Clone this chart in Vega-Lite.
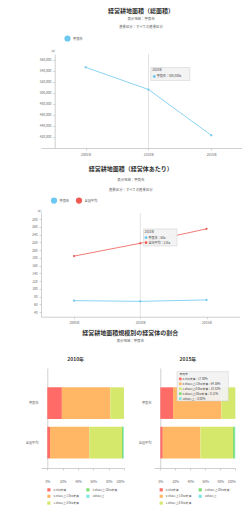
{
  "$schema": "https://vega.github.io/schema/vega-lite/v6.json",
  "padding": {"left": 25, "top": 8, "right": 2, "bottom": 2},
  "background": "white",
  "config": {
    "font": "Noto Sans CJK JP",
    "view": {"stroke": null},
    "title": {"fontSize": 6, "fontWeight": "bold", "color": "#333333", "subtitleFontSize": 3.4, "subtitleColor": "#555555", "subtitleLineHeight": 8, "subtitlePadding": 3, "anchor": "middle"},
    "axis": {"labelFontSize": 3.2, "labelColor": "#666666", "domainColor": "#bbbbbb", "tickColor": "#bbbbbb", "grid": false, "tickSize": 2, "domainWidth": 0.7, "tickWidth": 0.6, "titleFontSize": 3.2, "titleFontWeight": "normal", "titleColor": "#666666", "labelPadding": 2},
    "legend": {"labelFontSize": 3.2, "labelColor": "#555555"}
  },
  "datasets": {
    "area": [
      {"year": "2005年", "region": "奈良市", "value": 545900},
      {"year": "2010年", "region": "奈良市", "value": 505800},
      {"year": "2015年", "region": "奈良市", "value": 422900}
    ],
    "tip1": [
      {"year": "2010年", "value": 505800, "head": "2010年", "line": "奈良市：505,800a"}
    ],
    "perFarm": [
      {"year": "2005年", "region": "奈良市", "value": 69.5},
      {"year": "2010年", "region": "奈良市", "value": 67.7},
      {"year": "2015年", "region": "奈良市", "value": 71.4},
      {"year": "2005年", "region": "全国平均", "value": 184.6},
      {"year": "2010年", "region": "全国平均", "value": 217.8},
      {"year": "2015年", "region": "全国平均", "value": 255.0}
    ],
    "tip2": [
      {"year": "2010年", "value": 217.8, "head": "2010年", "line1": "奈良市：68a", "line2": "全国平均：218a"}
    ],
    "tip3": [
      {"ord": 0, "label": "奈良市"},
      {"ord": 1, "cls": "0.3ha未満", "label": "0.3ha未満：17.00%"},
      {"ord": 2, "cls": "0.3ha以上1.0ha未満", "label": "0.3ha以上1.0ha未満：64.36%"},
      {"ord": 3, "cls": "1.0ha以上3.0ha未満", "label": "1.0ha以上3.0ha未満：18.52%"},
      {"ord": 4, "cls": "3.0ha以上10ha未満", "label": "3.0ha以上10ha未満：0.12%"},
      {"ord": 5, "cls": "10ha以上", "label": "10ha以上：0.00%"}
    ],
    "share": [
      {"year": "2010年", "region": "奈良市", "cls": "0.3ha未満", "ord": 1, "pct": 19.0},
      {"year": "2010年", "region": "奈良市", "cls": "0.3ha以上1.0ha未満", "ord": 2, "pct": 63.2},
      {"year": "2010年", "region": "奈良市", "cls": "1.0ha以上3.0ha未満", "ord": 3, "pct": 17.7},
      {"year": "2010年", "region": "奈良市", "cls": "3.0ha以上10ha未満", "ord": 4, "pct": 0.1},
      {"year": "2010年", "region": "奈良市", "cls": "10ha以上", "ord": 5, "pct": 0.0},
      {"year": "2010年", "region": "全国平均", "cls": "0.3ha未満", "ord": 1, "pct": 3.5},
      {"year": "2010年", "region": "全国平均", "cls": "0.3ha以上1.0ha未満", "ord": 2, "pct": 51.3},
      {"year": "2010年", "region": "全国平均", "cls": "1.0ha以上3.0ha未満", "ord": 3, "pct": 42.6},
      {"year": "2010年", "region": "全国平均", "cls": "3.0ha以上10ha未満", "ord": 4, "pct": 2.0},
      {"year": "2010年", "region": "全国平均", "cls": "10ha以上", "ord": 5, "pct": 0.6},
      {"year": "2015年", "region": "奈良市", "cls": "0.3ha未満", "ord": 1, "pct": 17.0},
      {"year": "2015年", "region": "奈良市", "cls": "0.3ha以上1.0ha未満", "ord": 2, "pct": 64.36},
      {"year": "2015年", "region": "奈良市", "cls": "1.0ha以上3.0ha未満", "ord": 3, "pct": 18.52},
      {"year": "2015年", "region": "奈良市", "cls": "3.0ha以上10ha未満", "ord": 4, "pct": 0.12},
      {"year": "2015年", "region": "奈良市", "cls": "10ha以上", "ord": 5, "pct": 0.0},
      {"year": "2015年", "region": "全国平均", "cls": "0.3ha未満", "ord": 1, "pct": 3.3},
      {"year": "2015年", "region": "全国平均", "cls": "0.3ha以上1.0ha未満", "ord": 2, "pct": 50.2},
      {"year": "2015年", "region": "全国平均", "cls": "1.0ha以上3.0ha未満", "ord": 3, "pct": 43.4},
      {"year": "2015年", "region": "全国平均", "cls": "3.0ha以上10ha未満", "ord": 4, "pct": 2.5},
      {"year": "2015年", "region": "全国平均", "cls": "10ha以上", "ord": 5, "pct": 0.6}
    ]
  },
  "columns": 1,
  "align": "none",
  "spacing": 6,
  "resolve": {"scale": {"color": "independent"}, "legend": {"color": "independent"}},
  "concat": [
    {
      "columns": 1,
      "align": "none",
      "spacing": 10,
      "resolve": {"scale": {"color": "independent"}, "legend": {"color": "independent"}},
      "concat": [
        {
          "title": {"text": "経営耕地面積（総面積）", "subtitle": ["表示地域：奈良市", "農業区分：すべての農業区分"], "offset": 6.5, "dx": -1},
          "width": 202,
          "height": 94,
          "data": {"name": "area"},
          "layer": [
            {
              "data": {"values": [{"year": "2010年"}]},
              "mark": {"type": "rule", "color": "#e3e3e3", "strokeWidth": 1},
              "encoding": {"x": {"field": "year", "type": "ordinal", "scale": {"type": "point", "padding": 0.608, "align": 0.585, "domain": ["2005年", "2010年", "2015年"]}, "axis": {"title": null, "labelAngle": 0, "labelPadding": 2}}}
            },
            {
              "mark": {"type": "line", "strokeWidth": 0.8, "point": {"filled": true, "size": 5}},
              "encoding": {
                "x": {"field": "year", "type": "ordinal", "scale": {"type": "point", "padding": 0.608, "align": 0.585, "domain": ["2005年", "2010年", "2015年"]}, "axis": {"title": null, "labelAngle": 0, "labelPadding": 2}},
                "y": {"field": "value", "type": "quantitative", "scale": {"domain": [400000, 570000], "nice": false, "zero": false}, "axis": {"values": [420000, 440000, 460000, 480000, 500000, 520000, 540000, 560000], "format": ",d", "title": "[a]", "titleAngle": 0, "titleAnchor": "end", "titleAlign": "center", "titleBaseline": "bottom", "titleX": -2, "titleY": -2, "offset": -13.7}},
                "color": {"field": "region", "type": "nominal", "scale": {"domain": ["奈良市"], "range": ["#6cc8f0"]}, "legend": {"orient": "none", "legendX": 23, "legendY": -19, "direction": "horizontal", "title": null, "symbolType": "circle", "symbolSize": 22, "labelOffset": 2}}
              }
            },
            {
              "data": {"name": "tip1"},
              "encoding": {
                "x": {"field": "year", "type": "ordinal", "scale": {"type": "point", "padding": 0.608, "align": 0.585, "domain": ["2005年", "2010年", "2015年"]}, "axis": {"title": null, "labelAngle": 0, "labelPadding": 2}},
                "y": {"field": "value", "type": "quantitative", "scale": {"domain": [400000, 570000], "nice": false, "zero": false}, "axis": {"values": [420000, 440000, 460000, 480000, 500000, 520000, 540000, 560000], "format": ",d", "title": "[a]", "titleAngle": 0, "titleAnchor": "end", "titleAlign": "center", "titleBaseline": "bottom", "titleX": -2, "titleY": -2, "offset": -13.7}}
              },
              "layer": [
                {"mark": {"type": "point", "shape": "M-1,-0.333H1V0.333H-1Z", "size": 1521, "filled": true, "fill": "#f2f2f2", "fillOpacity": 0.95, "stroke": "#cccccc", "strokeWidth": 0.5, "xOffset": 21.8, "yOffset": -15.5}},
                {"mark": {"type": "text", "align": "left", "baseline": "middle", "fontSize": 3, "color": "#444444", "dx": 3.8, "dy": -19}, "encoding": {"text": {"field": "head"}}},
                {"mark": {"type": "point", "shape": "circle", "size": 8, "filled": true, "color": "#6cc8f0", "opacity": 1, "xOffset": 5.8, "yOffset": -13}},
                {"mark": {"type": "text", "align": "left", "baseline": "middle", "fontSize": 3, "color": "#444444", "dx": 8.3, "dy": -13}, "encoding": {"text": {"field": "line"}}}
              ]
            }
          ]
        },
        {
          "title": {"text": "経営耕地面積（経営体あたり）", "subtitle": ["表示地域：奈良市", "農業区分：すべての農業区分"], "offset": 6, "subtitlePadding": 6, "subtitleLineHeight": 9.3, "dx": -9.5},
          "width": 198.6,
          "height": 103.7,
          "data": {"name": "perFarm"},
          "layer": [
            {
              "data": {"values": [{"year": "2010年"}]},
              "mark": {"type": "rule", "color": "#e3e3e3", "strokeWidth": 1},
              "encoding": {"x": {"field": "year", "type": "ordinal", "scale": {"type": "point", "padding": 0.5, "domain": ["2005年", "2010年", "2015年"]}, "axis": {"title": null, "labelAngle": 0, "labelPadding": 2}}}
            },
            {
              "mark": {"type": "line", "strokeWidth": 0.8, "point": {"filled": true, "size": 5}},
              "encoding": {
                "x": {"field": "year", "type": "ordinal", "scale": {"type": "point", "padding": 0.5, "domain": ["2005年", "2010年", "2015年"]}, "axis": {"title": null, "labelAngle": 0, "labelPadding": 2}},
                "y": {"field": "value", "type": "quantitative", "scale": {"domain": [28, 296], "nice": false, "zero": false}, "axis": {"values": [40, 60, 80, 100, 120, 140, 160, 180, 200, 220, 240, 260, 280], "title": "[a]", "titleAngle": 0, "titleAnchor": "end", "titleAlign": "center", "titleBaseline": "bottom", "titleX": -2, "titleY": -1, "minExtent": 13}},
                "color": {"field": "region", "type": "nominal", "scale": {"domain": ["奈良市", "全国平均"], "range": ["#6cc8f0", "#ee5a52"]}, "legend": {"orient": "none", "legendX": 9.5, "legendY": -16, "direction": "horizontal", "title": null, "symbolType": "circle", "symbolSize": 22, "labelOffset": 2, "columnPadding": 4}}
              }
            },
            {
              "data": {"name": "tip2"},
              "encoding": {
                "x": {"field": "year", "type": "ordinal", "scale": {"type": "point", "padding": 0.5, "domain": ["2005年", "2010年", "2015年"]}, "axis": {"title": null, "labelAngle": 0, "labelPadding": 2}},
                "y": {"field": "value", "type": "quantitative", "scale": {"domain": [28, 296], "nice": false, "zero": false}, "axis": {"values": [40, 60, 80, 100, 120, 140, 160, 180, 200, 220, 240, 260, 280], "title": "[a]", "titleAngle": 0, "titleAnchor": "end", "titleAlign": "center", "titleBaseline": "bottom", "titleX": -2, "titleY": -1, "minExtent": 13}}
              },
              "layer": [
                {"mark": {"type": "point", "shape": "M-1,-0.507H1V0.507H-1Z", "size": 1122, "filled": true, "fill": "#f2f2f2", "fillOpacity": 0.95, "stroke": "#cccccc", "strokeWidth": 0.5, "xOffset": 20, "yOffset": -5.8}},
                {"mark": {"type": "text", "align": "left", "baseline": "middle", "fontSize": 3, "color": "#444444", "dx": 4.2, "dy": -10.8}, "encoding": {"text": {"field": "head"}}},
                {"mark": {"type": "point", "shape": "circle", "size": 8, "filled": true, "color": "#6cc8f0", "opacity": 1, "xOffset": 5.7, "yOffset": -5.6}},
                {"mark": {"type": "text", "align": "left", "baseline": "middle", "fontSize": 3, "color": "#444444", "dx": 8.2, "dy": -5.6}, "encoding": {"text": {"field": "line1"}}},
                {"mark": {"type": "point", "shape": "circle", "size": 8, "filled": true, "color": "#ee5a52", "opacity": 1, "xOffset": 5.7, "yOffset": -0.6}},
                {"mark": {"type": "text", "align": "left", "baseline": "middle", "fontSize": 3, "color": "#444444", "dx": 8.2, "dy": -0.6}, "encoding": {"text": {"field": "line2"}}}
              ]
            }
          ]
        }
      ]
    },
    {
      "title": {"text": "経営耕地面積規模別の経営体の割合", "subtitle": "表示地域：奈良市", "offset": 14},
      "spacing": 13,
      "resolve": {"scale": {"color": "shared", "x": "independent"}, "legend": {"color": "independent"}},
      "hconcat": [
        {
          "title": {"text": "2010年", "fontSize": 5, "offset": 6.5, "dx": -6.8},
          "width": 83,
          "height": 100,
          "data": {"name": "share"},
          "transform": [{"filter": "datum.year === '2010年'"}],
          "mark": {"type": "bar"},
          "encoding": {
            "y": {"field": "region", "type": "nominal", "sort": ["奈良市", "全国平均"], "scale": {"paddingInner": 0.2, "paddingOuter": 0.366, "align": 0.668}, "axis": {"title": null, "ticks": false, "labelPadding": 9.3, "offset": -6.3}},
            "x": {"field": "pct", "type": "quantitative", "stack": "normalize", "scale": {"domain": [-0.0821, 1]}, "axis": {"title": null, "format": ".0%", "values": [0, 0.2, 0.4, 0.6, 0.8, 1], "labelPadding": 9}},
            "color": {"field": "cls", "type": "nominal", "scale": {"domain": ["0.3ha未満", "0.3ha以上1.0ha未満", "1.0ha以上3.0ha未満", "3.0ha以上10ha未満", "10ha以上"], "range": ["#ff6b66", "#ffb766", "#d5e86c", "#7ddf73", "#7fe6e6"]}, "legend": {"orient": "none", "legendX": 5.4, "legendY": 119, "title": null, "columns": 2, "symbolType": "square", "symbolSize": 10, "columnPadding": 6, "rowPadding": 1.8, "labelFontSize": 2.8, "labelOffset": 2}},
            "order": {"field": "ord"}
          }
        },
        {
          "title": {"text": "2015年", "fontSize": 5, "offset": 6.5, "dx": -6.7},
          "width": 81.3,
          "height": 100,
          "resolve": {"scale": {"y": "independent"}, "axis": {"y": "independent"}},
          "layer": [
            {
              "data": {"name": "share"},
              "transform": [{"filter": "datum.year === '2015年'"}],
              "mark": {"type": "bar"},
              "encoding": {
                "y": {"field": "region", "type": "nominal", "sort": ["奈良市", "全国平均"], "scale": {"paddingInner": 0.2, "paddingOuter": 0.366, "align": 0.668}, "axis": {"title": null, "ticks": false, "labelPadding": 9.3, "offset": -6.3}},
                "x": {"field": "pct", "type": "quantitative", "stack": "normalize", "scale": {"domain": [-0.084, 1]}, "axis": {"title": null, "format": ".0%", "values": [0, 0.2, 0.4, 0.6, 0.8, 1], "labelPadding": 9}},
                "color": {"field": "cls", "type": "nominal", "scale": {"domain": ["0.3ha未満", "0.3ha以上1.0ha未満", "1.0ha以上3.0ha未満", "3.0ha以上10ha未満", "10ha以上"], "range": ["#ff6b66", "#ffb766", "#d5e86c", "#7ddf73", "#7fe6e6"]}, "legend": {"orient": "none", "legendX": 4.7, "legendY": 119, "title": null, "columns": 2, "symbolType": "square", "symbolSize": 10, "columnPadding": 6, "rowPadding": 1.8, "labelFontSize": 2.8, "labelOffset": 2}},
                "order": {"field": "ord"}
              }
            },
            {
              "data": {"name": "tip3"},
              "mark": {"type": "point", "shape": "M-1,-0.571H1V0.571H-1Z", "size": 2632, "filled": true, "fill": "#f2f2f2", "fillOpacity": 0.93, "stroke": "#cccccc", "strokeWidth": 0.5},
              "encoding": {
                "x": {"datum": 0.565, "type": "quantitative", "scale": {"domain": [-0.084, 1]}, "axis": {"title": null, "format": ".0%", "values": [0, 0.2, 0.4, 0.6, 0.8, 1], "labelPadding": 9}},
                "y": {"aggregate": "mean", "field": "ord", "type": "quantitative", "scale": {"domain": [-1.22, 19.11], "reverse": true, "nice": false, "zero": false}, "axis": null}
              }
            },
            {
              "data": {"name": "tip3"},
              "transform": [{"filter": "datum.ord === 0"}],
              "mark": {"type": "text", "align": "left", "baseline": "middle", "fontSize": 2.8, "color": "#444444", "dx": -23.2},
              "encoding": {
                "x": {"datum": 0.565, "type": "quantitative", "scale": {"domain": [-0.084, 1]}, "axis": {"title": null, "format": ".0%", "values": [0, 0.2, 0.4, 0.6, 0.8, 1], "labelPadding": 9}},
                "y": {"field": "ord", "type": "quantitative", "scale": {"domain": [-1.22, 19.11], "reverse": true, "nice": false, "zero": false}, "axis": null},
                "text": {"field": "label"}
              }
            },
            {
              "data": {"name": "tip3"},
              "transform": [{"filter": "datum.ord > 0"}],
              "mark": {"type": "text", "align": "left", "baseline": "middle", "fontSize": 2.8, "color": "#444444", "dx": -20.2},
              "encoding": {
                "x": {"datum": 0.565, "type": "quantitative", "scale": {"domain": [-0.084, 1]}, "axis": {"title": null, "format": ".0%", "values": [0, 0.2, 0.4, 0.6, 0.8, 1], "labelPadding": 9}},
                "y": {"field": "ord", "type": "quantitative", "scale": {"domain": [-1.22, 19.11], "reverse": true, "nice": false, "zero": false}, "axis": null},
                "text": {"field": "label"}
              }
            },
            {
              "data": {"name": "tip3"},
              "transform": [{"filter": "datum.ord > 0"}],
              "mark": {"type": "point", "shape": "square", "size": 7, "filled": true, "opacity": 1, "xOffset": -22.4},
              "encoding": {
                "x": {"datum": 0.565, "type": "quantitative", "scale": {"domain": [-0.084, 1]}, "axis": {"title": null, "format": ".0%", "values": [0, 0.2, 0.4, 0.6, 0.8, 1], "labelPadding": 9}},
                "y": {"field": "ord", "type": "quantitative", "scale": {"domain": [-1.22, 19.11], "reverse": true, "nice": false, "zero": false}, "axis": null},
                "color": {"field": "cls", "type": "nominal", "scale": {"domain": ["0.3ha未満", "0.3ha以上1.0ha未満", "1.0ha以上3.0ha未満", "3.0ha以上10ha未満", "10ha以上"], "range": ["#ff6b66", "#ffb766", "#d5e86c", "#7ddf73", "#7fe6e6"]}, "legend": {"orient": "none", "legendX": 4.7, "legendY": 119, "title": null, "columns": 2, "symbolType": "square", "symbolSize": 10, "columnPadding": 6, "rowPadding": 1.8, "labelFontSize": 2.8, "labelOffset": 2}}
              }
            }
          ]
        }
      ]
    }
  ]
}
